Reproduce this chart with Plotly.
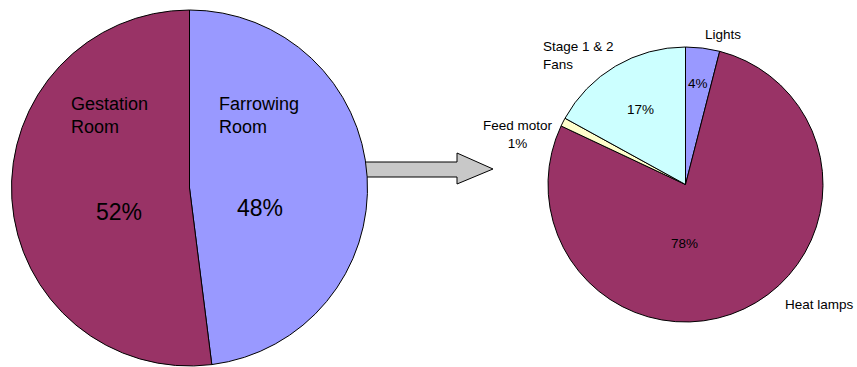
import plotly.graph_objects as go

W, H = 857, 367

# ---- data ----
room_labels = ["Farrowing Room", "Gestation Room"]
room_values = [48, 52]
room_colors = ["#9999FF", "#993366"]

farrow_labels = ["Lights", "Heat lamps", "Feed motor", "Stage 1 & 2 Fans"]
farrow_values = [4, 78, 1, 17]
farrow_colors = ["#9999FF", "#993366", "#FFFFCC", "#CCFFFF"]


def px(x):
    return x / W


def py(y):
    return 1 - y / H


fig = go.Figure()
fig.add_trace(go.Pie(
    labels=room_labels, values=room_values, sort=False, direction="clockwise",
    rotation=0, marker=dict(colors=room_colors, line=dict(color="black", width=1)),
    textinfo="none", hoverinfo="label+percent", showlegend=False,
    domain=dict(x=[px(11), px(368)], y=[py(366), py(10)]),
))
fig.add_trace(go.Pie(
    labels=farrow_labels, values=farrow_values, sort=False, direction="clockwise",
    rotation=0, marker=dict(colors=farrow_colors, line=dict(color="black", width=1)),
    textinfo="none", hoverinfo="label+percent", showlegend=False,
    domain=dict(x=[px(548), px(823)], y=[py(322), py(47)]),
))

FONT = "Liberation Sans, Arial, sans-serif"
ann = []


def add(text, x, y, size, xanchor="center", align="center"):
    ann.append(dict(text=text, x=px(x), y=py(y), xref="paper", yref="paper",
                    xanchor=xanchor, yanchor="middle", align=align, showarrow=False,
                    borderpad=0, borderwidth=0,
                    font=dict(family=FONT, size=size, color="black")))


def pct(values, i):
    return f"{round(100 * values[i] / sum(values))}%"


def two_lines(label, split_at):
    words = label.split(" ")
    return " ".join(words[:split_at]) + "<br>" + " ".join(words[split_at:])


# left pie labels
add(two_lines(room_labels[1], 1), 71, 115, 18, xanchor="left", align="left")
add(two_lines(room_labels[0], 1), 219, 115, 18, xanchor="left", align="left")
add(pct(room_values, 1), 119, 212, 23)
add(pct(room_values, 0), 260, 208, 23)

# right pie labels
add(farrow_labels[0], 723, 35, 13.5)
add(pct(farrow_values, 0), 698, 83, 13.5)
add(two_lines(farrow_labels[3], 4), 543, 55, 13.5, xanchor="left", align="left")
add(pct(farrow_values, 3), 640, 109.5, 13.5)
add(farrow_labels[2] + "<br>" + pct(farrow_values, 2), 518, 134, 13.5)
add(pct(farrow_values, 1), 684, 243, 13.5)
add(farrow_labels[1], 819, 304, 13.5)

# arrow between pies
x0, xh, xt = 362, 457, 493
ys0, ys1, yh0, yh1, yt = 162, 177, 153, 184, 169
path = (f"M {px(x0)} {py(ys0)} L {px(xh)} {py(ys0)} L {px(xh)} {py(yh0)} "
        f"L {px(xt)} {py(yt)} L {px(xh)} {py(yh1)} L {px(xh)} {py(ys1)} "
        f"L {px(x0)} {py(ys1)} Z")

fig.update_layout(
    width=W, height=H, margin=dict(l=0, r=0, t=0, b=0),
    paper_bgcolor="white", plot_bgcolor="white",
    annotations=ann,
    shapes=[dict(type="path", path=path, xref="paper", yref="paper",
                 fillcolor="#C8C8C8", line=dict(color="black", width=1), layer="below")],
)

fig.write_html("out.html")
